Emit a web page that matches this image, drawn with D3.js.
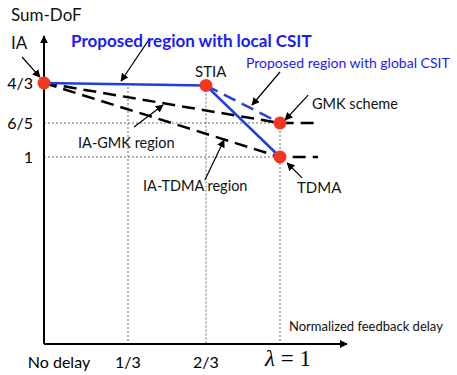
<!DOCTYPE html>
<html>
<head>
<meta charset="UTF-8">
<title>Sum-DoF vs feedback delay</title>
<script src="https://d3js.org/d3.v7.min.js"></script>
<style>
  body { margin: 0; background: #fff; }
  text { font-family: Lato, "Open Sans", sans-serif; }
</style>
</head>
<body>
<div id="chart"></div>
<script>
// feedback delay ticks (x) and Sum-DoF ticks (y)
const xTicks = [0, 1/3, 2/3, 1];
const xTickLabels = ["No delay", "1/3", "2/3"];
const yTicks = [1, 6/5, 4/3];
const yTickLabels = ["1", "6/5", "4/3"];

// proposed region with local CSIT (IA -> STIA -> TDMA)
const localX = [0, 2/3, 1];
const localY = [4/3, 1.325, 1];
// proposed region with global CSIT (STIA -> GMK)
const globalX = [2/3, 1];
const globalY = [1.325, 6/5];
// IA-GMK and IA-TDMA regions
const iaGmkX = [0, 1, 1.17];
const iaGmkY = [4/3, 6/5, 6/5];
const iaTdmaX = [0, 1, 1.17];
const iaTdmaY = [4/3, 1, 1];
// operating points: IA, STIA, GMK, TDMA
const ptX = [0, 2/3, 1, 1];
const ptY = [4/3, 1.325, 6/5, 1];

// annotation arrows, tail -> head, in data units
const arrows = [
  [[-0.087, 1.42], [-0.016, 1.353]],
  [[0.427, 1.483], [0.306, 1.34]],
  [[0.359, 1.176], [0.483, 1.26]],
  [[0.662, 0.877], [0.748, 1.1]],
  [[1.0, 1.37], [0.874, 1.26]],
  [[1.126, 1.293], [1.023, 1.21]],
  [[1.099, 0.888], [1.032, 0.968]]
];

const W = 457, H = 375;
const svg = d3.select("#chart").append("svg")
  .attr("width", W).attr("height", H);

const x = d3.scaleLinear().domain([0, 1/3, 2/3, 1, 1.3]).range([44, 128, 206, 280, 347]);
const y = d3.scaleLinear().domain([0, 1, 1.2, 4/3, 1.49]).range([344, 157, 123, 83, 36]);

svg.append("defs").append("marker")
  .attr("id", "head").attr("viewBox", "0 0 10 10")
  .attr("refX", 9).attr("refY", 5)
  .attr("markerWidth", 8).attr("markerHeight", 8)
  .attr("markerUnits", "userSpaceOnUse")
  .attr("orient", "auto")
  .append("path").attr("d", "M0,0L10,5L0,10z").attr("fill", "#000");

// dotted guide lines
const guides = svg.append("g").attr("stroke", "#555").attr("stroke-width", 0.9)
  .attr("stroke-dasharray", "2,2");
guides.append("line").attr("x1", x(1/3)).attr("x2", x(1/3)).attr("y1", y(4/3)).attr("y2", y(0));
guides.append("line").attr("x1", x(2/3)).attr("x2", x(2/3)).attr("y1", y(1.325)).attr("y2", y(0));
guides.append("line").attr("x1", x(1)).attr("x2", x(1)).attr("y1", y(6/5)).attr("y2", y(0));
guides.append("line").attr("x1", x(0)).attr("x2", x(1)).attr("y1", y(6/5)).attr("y2", y(6/5));
guides.append("line").attr("x1", x(0)).attr("x2", x(1)).attr("y1", y(1)).attr("y2", y(1));

// axes with arrow heads
svg.append("line").attr("x1", x(0)).attr("x2", x(0)).attr("y1", y(0)).attr("y2", y(1.49))
  .attr("stroke", "#000").attr("stroke-width", 2).attr("marker-end", "url(#head)");
svg.append("line").attr("x1", x(0)).attr("x2", x(1.3)).attr("y1", y(0)).attr("y2", y(0))
  .attr("stroke", "#000").attr("stroke-width", 2).attr("marker-end", "url(#head)");

const line = d3.line().x(d => x(d[0])).y(d => y(d[1]));
const zip = (a, b) => a.map((v, i) => [v, b[i]]);

svg.append("path").attr("d", line(zip(iaGmkX, iaGmkY)))
  .attr("fill", "none").attr("stroke", "#000").attr("stroke-width", 2.5).attr("stroke-dasharray", "13,7");
svg.append("path").attr("d", line(zip(iaTdmaX, iaTdmaY)))
  .attr("fill", "none").attr("stroke", "#000").attr("stroke-width", 2.5).attr("stroke-dasharray", "13,7");
svg.append("path").attr("d", line(zip(globalX, globalY)))
  .attr("fill", "none").attr("stroke", "#1f3fe0").attr("stroke-width", 2.5).attr("stroke-dasharray", "13,7");
svg.append("path").attr("d", line(zip(localX, localY)))
  .attr("fill", "none").attr("stroke", "#1f3fe0").attr("stroke-width", 2.5);

svg.selectAll("circle.pt").data(zip(ptX, ptY)).join("circle")
  .attr("class", "pt")
  .attr("cx", d => x(d[0])).attr("cy", d => y(d[1])).attr("r", 6.5)
  .attr("fill", "#f5361e");

svg.selectAll("line.arrow").data(arrows).join("line")
  .attr("class", "arrow")
  .attr("x1", d => x(d[0][0])).attr("y1", d => y(d[0][1]))
  .attr("x2", d => x(d[1][0])).attr("y2", d => y(d[1][1]))
  .attr("stroke", "#000").attr("stroke-width", 1.2)
  .attr("marker-end", "url(#head)");

// tick labels
svg.selectAll("text.yt").data(yTicks).join("text")
  .attr("class", "yt")
  .attr("x", 33).attr("y", d => y(d) + 6)
  .attr("text-anchor", "end").attr("font-size", 16)
  .text((d, i) => yTickLabels[i]);
svg.selectAll("text.xt").data(xTicks.slice(0, 3)).join("text")
  .attr("class", "xt")
  .attr("x", d => d === 0 ? 59 : x(d)).attr("y", 368)
  .attr("text-anchor", "middle").attr("font-size", 16)
  .text((d, i) => xTickLabels[i]);

const lam = svg.append("text").attr("x", x(1) + 8).attr("y", 366)
  .attr("text-anchor", "middle").attr("font-size", 23)
  .style("font-family", "'Liberation Serif', 'DejaVu Serif', serif");
lam.append("tspan").attr("font-style", "italic").text("λ");
lam.append("tspan").text(" = 1");

// labels
const label = (t, px, py, size, opts = {}) => svg.append("text")
  .attr("x", px).attr("y", py).attr("font-size", size)
  .attr("fill", opts.fill || "#111")
  .attr("font-weight", opts.bold ? "bold" : null)
  .text(t);

label("Sum-DoF", 11, 21, 17);
label("IA", 11, 49, 17);
label("Proposed region with local CSIT", 71, 47, 17, { fill: "#1a1aff", bold: true });
label("Proposed region with global CSIT", 246, 68, 14, { fill: "#1a1aff" });
label("STIA", 195, 77, 15);
label("GMK scheme", 312, 109, 14.5);
label("IA-GMK region", 78, 148, 14.5);
label("IA-TDMA region", 143, 191, 14.5);
label("TDMA", 297, 193, 15);
label("Normalized feedback delay", 289, 331, 13);
</script>
</body>
</html>
